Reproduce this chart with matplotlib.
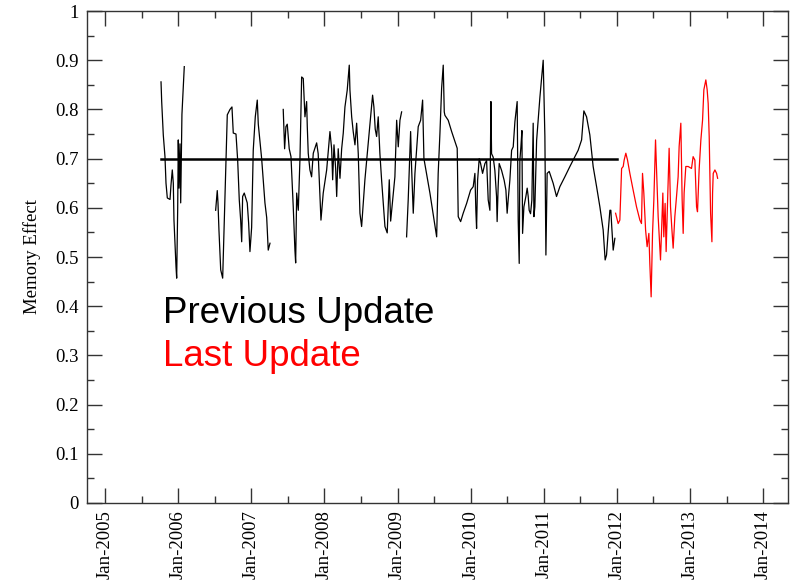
import numpy as np
import matplotlib
matplotlib.use("Agg")
import matplotlib.pyplot as plt
from matplotlib.ticker import MultipleLocator, FormatStrFormatter

# ------------------------------------------------------------
# Memory effect: previous update (black, with gaps) and last update (red)
# x values in decimal years, NaN separates gaps in the record
# ------------------------------------------------------------

prev_year = [
    2005.766, 2005.775, 2005.797, 2005.820, 2005.834, 2005.852, 2005.889, 2005.902,
    2005.920, 2005.934, 2005.943, 2005.971, 2005.980, 2005.994, 2006.002, 2006.012,
    2006.025, 2006.035, 2006.052, 2006.084,
    np.nan,
    2006.513, 2006.535, 2006.545, 2006.558, 2006.582, 2006.609, 2006.645, 2006.672,
    2006.709, 2006.736, 2006.754, 2006.791, 2006.814, 2006.836, 2006.855, 2006.869,
    2006.882, 2006.904, 2006.945, 2006.964, 2006.982, 2007.005, 2007.027, 2007.055,
    2007.082, 2007.096, 2007.119, 2007.142, 2007.187, 2007.211, 2007.232, 2007.256,
    np.nan,
    2007.437, 2007.456, 2007.474, 2007.492, 2007.519, 2007.543, 2007.574, 2007.597,
    2007.607, 2007.621, 2007.643, 2007.666, 2007.689, 2007.711, 2007.734, 2007.757,
    2007.766, 2007.779, 2007.802, 2007.825, 2007.848, 2007.894, 2007.915, 2007.953,
    2007.984, 2008.031, 2008.076, 2008.099, 2008.113, 2008.131, 2008.154, 2008.168,
    2008.189, 2008.213, 2008.236, 2008.258, 2008.281, 2008.312, 2008.340, 2008.349,
    2008.373, 2008.394, 2008.418, 2008.441, 2008.463, 2008.486, 2008.509, 2008.554,
    2008.599, 2008.632, 2008.659, 2008.677, 2008.695, 2008.714, 2008.736, 2008.759,
    2008.782, 2008.828, 2008.859, 2008.887, 2008.906, 2008.933, 2008.964, 2008.988,
    2009.010, 2009.033, 2009.056,
    np.nan,
    2009.124, 2009.146, 2009.179, 2009.192, 2009.215, 2009.238, 2009.283, 2009.316,
    2009.343, 2009.361, 2009.443, 2009.535, 2009.556, 2009.580, 2009.603, 2009.625,
    2009.639, 2009.648, 2009.693, 2009.740, 2009.785, 2009.816, 2009.830, 2009.863,
    2009.898, 2009.945, 2009.999, 2010.035, 2010.058, 2010.071, 2010.081, 2010.095,
    2010.117, 2010.136, 2010.163, 2010.195, 2010.218, 2010.240, 2010.263, 2010.277,
    2010.286, 2010.308, 2010.331, 2010.354, 2010.362, 2010.376, 2010.390, 2010.423,
    2010.458, 2010.482, 2010.499, 2010.513, 2010.536, 2010.560, 2010.582, 2010.605,
    2010.636, 2010.650, 2010.664, 2010.673, 2010.687, 2010.701, 2010.710, 2010.728,
    2010.755, 2010.773, 2010.787, 2010.800, 2010.819, 2010.837, 2010.847, 2010.855,
    2010.865, 2010.878, 2010.902, 2010.947, 2010.992, 2011.015, 2011.029, 2011.046,
    2011.074, 2011.128, 2011.174, 2011.220, 2011.288, 2011.357, 2011.425, 2011.470,
    2011.517, 2011.548, 2011.585, 2011.630, 2011.675, 2011.722, 2011.767, 2011.812,
    2011.839, 2011.858, 2011.880, 2011.904, 2011.917, 2011.930, 2011.949, 2011.972,
]
prev_value = [
    0.856, 0.816, 0.748, 0.704, 0.650, 0.620, 0.617, 0.646,
    0.677, 0.650, 0.575, 0.480, 0.457, 0.600, 0.738, 0.640,
    0.730, 0.610, 0.790, 0.887,
    np.nan,
    0.595, 0.635, 0.610, 0.555, 0.474, 0.457, 0.643, 0.789,
    0.800, 0.805, 0.752, 0.750, 0.697, 0.616, 0.575, 0.531,
    0.623, 0.630, 0.610, 0.569, 0.511, 0.560, 0.717, 0.785,
    0.819, 0.770, 0.734, 0.700, 0.610, 0.580, 0.514, 0.528,
    np.nan,
    0.800, 0.720, 0.765, 0.770, 0.720, 0.704, 0.602, 0.514,
    0.488, 0.630, 0.595, 0.700, 0.866, 0.863, 0.785, 0.816,
    0.765, 0.711, 0.677, 0.663, 0.711, 0.732, 0.710, 0.575,
    0.630, 0.677, 0.755, 0.720, 0.657, 0.728, 0.680, 0.623,
    0.720, 0.660, 0.720, 0.752, 0.805, 0.839, 0.890, 0.840,
    0.785, 0.755, 0.728, 0.772, 0.710, 0.589, 0.562, 0.657,
    0.732, 0.785, 0.829, 0.805, 0.760, 0.745, 0.785, 0.710,
    0.657, 0.562, 0.549, 0.657, 0.573, 0.616, 0.663, 0.778,
    0.724, 0.778, 0.795,
    np.nan,
    0.541, 0.616, 0.755, 0.684, 0.589, 0.670, 0.765, 0.778,
    0.819, 0.700, 0.630, 0.541, 0.670, 0.752, 0.843, 0.890,
    0.795, 0.788, 0.778, 0.755, 0.735, 0.721, 0.582, 0.572,
    0.589, 0.609, 0.636, 0.643, 0.670, 0.595, 0.558, 0.656,
    0.700, 0.690, 0.670, 0.690, 0.696, 0.616, 0.595, 0.816,
    0.710, 0.703, 0.676, 0.623, 0.572, 0.643, 0.690, 0.676,
    0.656, 0.636, 0.589, 0.616, 0.656, 0.717, 0.724, 0.775,
    0.816, 0.575, 0.487, 0.697, 0.724, 0.757, 0.548, 0.602,
    0.623, 0.640, 0.623, 0.595, 0.588, 0.616, 0.704, 0.772,
    0.582, 0.602, 0.737, 0.825, 0.900, 0.745, 0.504, 0.670,
    0.674, 0.650, 0.623, 0.643, 0.663, 0.684, 0.704, 0.717,
    0.738, 0.797, 0.785, 0.748, 0.684, 0.643, 0.602, 0.555,
    0.494, 0.504, 0.550, 0.595, 0.595, 0.560, 0.514, 0.538,
]

last_year = [
    2011.982, 2012.017, 2012.040, 2012.054, 2012.064, 2012.086, 2012.099, 2012.122,
    2012.145, 2012.177, 2012.222, 2012.268, 2012.314, 2012.336, 2012.350, 2012.368,
    2012.392, 2012.413, 2012.437, 2012.450, 2012.468, 2012.487, 2012.505, 2012.528,
    2012.542, 2012.564, 2012.596, 2012.614, 2012.628, 2012.641, 2012.659, 2012.673,
    2012.696, 2012.714, 2012.733, 2012.751, 2012.769, 2012.792, 2012.815, 2012.837,
    2012.851, 2012.874, 2012.892, 2012.906, 2012.919, 2012.942, 2012.974, 2013.020,
    2013.042, 2013.066, 2013.089, 2013.102, 2013.124, 2013.148, 2013.171, 2013.189,
    2013.216, 2013.234, 2013.248, 2013.262, 2013.281, 2013.299, 2013.308, 2013.317,
    2013.340, 2013.363, 2013.377,
]
last_value = [
    0.589, 0.568, 0.575, 0.636, 0.680, 0.684, 0.697, 0.711,
    0.697, 0.670, 0.636, 0.602, 0.575, 0.568, 0.670, 0.630,
    0.555, 0.521, 0.548, 0.487, 0.419, 0.548, 0.616, 0.738,
    0.677, 0.582, 0.494, 0.568, 0.630, 0.541, 0.609, 0.511,
    0.630, 0.721, 0.602, 0.558, 0.518, 0.582, 0.623, 0.663,
    0.725, 0.772, 0.616, 0.548, 0.630, 0.684, 0.684, 0.680,
    0.704, 0.697, 0.602, 0.592, 0.677, 0.738, 0.778, 0.840,
    0.860, 0.840, 0.812, 0.744, 0.589, 0.531, 0.630, 0.670,
    0.677, 0.670, 0.660,
]

mean_level = 0.70
mean_span = [2005.766, 2012.0]

tick_years = list(range(2005, 2015))
tick_labels = ["Jan-%d" % yr for yr in tick_years]

fig = plt.figure(figsize=(7.92, 5.81), dpi=100)
ax = fig.add_axes([0.1095, 0.1343, 0.8855, 0.8467])

ax.plot(prev_year, prev_value, color="black", lw=0.9)
ax.plot(last_year, last_value, color="#ff0000", lw=0.9)
ax.plot(mean_span, [mean_level, mean_level], color="black", lw=1.8)

ax.set_xlim(2004.75, 2014.34)
ax.set_ylim(0, 1)

ax.set_xticks(tick_years)
ax.set_xticklabels(tick_labels, rotation=90, family="Liberation Serif", fontsize=13.5)
ax.xaxis.set_minor_locator(MultipleLocator(0.5))
ax.yaxis.set_major_locator(MultipleLocator(0.1))
ax.yaxis.set_minor_locator(MultipleLocator(0.05))
ax.yaxis.set_major_formatter(FormatStrFormatter("%g"))
for lab in ax.get_yticklabels():
    lab.set_family("Liberation Serif")
    lab.set_fontsize(13.5)

ax.tick_params(which="both", direction="in", top=True, right=True, width=1.0, color="#333333")
ax.tick_params(which="major", length=10.5)
ax.tick_params(which="minor", length=5)
ax.tick_params(axis="y", pad=6)
ax.tick_params(axis="x", pad=5)
for sp in ax.spines.values():
    sp.set_linewidth(1.0)
    sp.set_color("#333333")

ax.set_ylabel("Memory Effect", family="Liberation Serif", fontsize=13.5, labelpad=10)

ax.text(2005.79, 0.386, "Previous Update", color="black", family="Liberation Sans",
        fontsize=26.5, va="center", ha="left")
ax.text(2005.79, 0.297, "Last Update", color="#ff0000", family="Liberation Sans",
        fontsize=26.5, va="center", ha="left")

fig.savefig("out.png", dpi=100)
